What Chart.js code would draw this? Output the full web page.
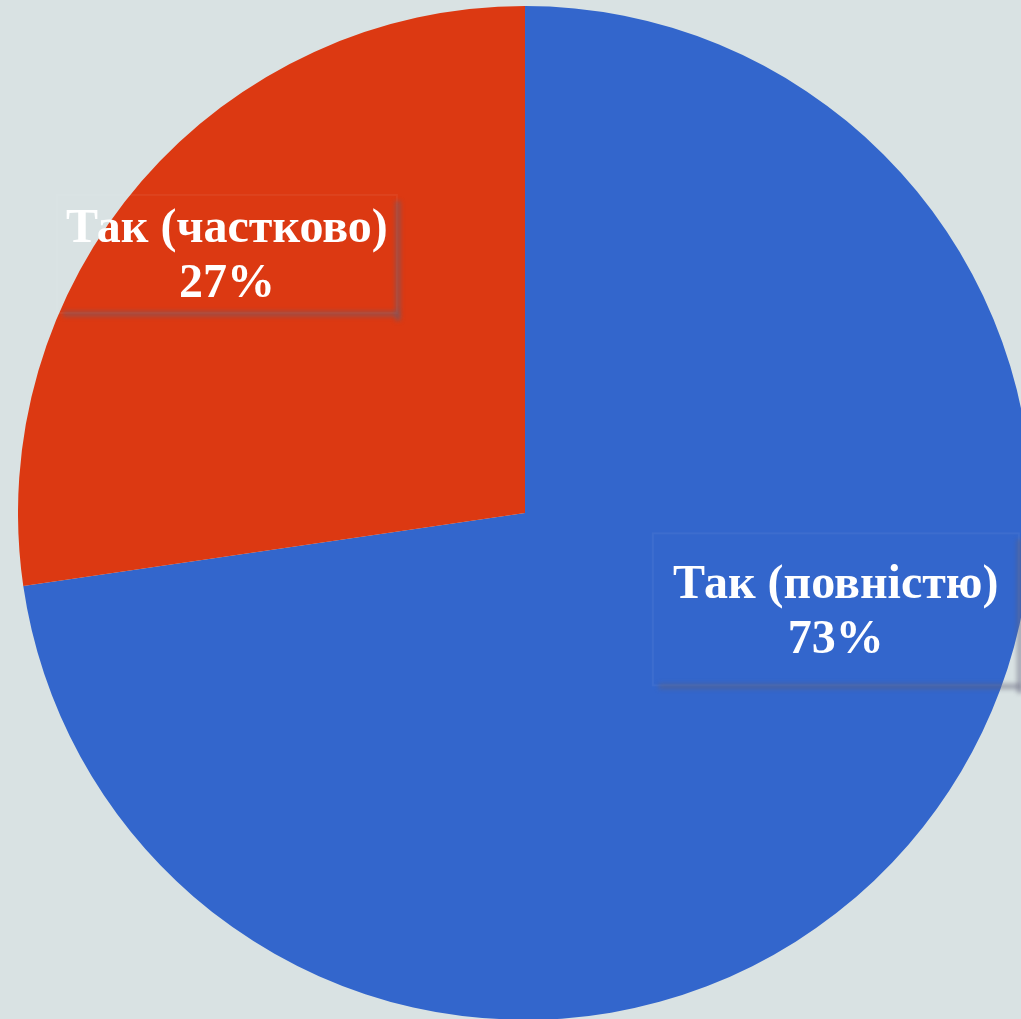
<!DOCTYPE html>
<html>
<head>
<meta charset="utf-8">
<script src="https://cdn.jsdelivr.net/npm/chart.js@4"></script>
<style>
  html, body { margin: 0; padding: 0; background: #d9e2e3; overflow: hidden; width: 1021px; height: 1019px; }
  #wrap { position: absolute; left: 18px; top: 6px; width: 1014px; height: 1014px; }
</style>
</head>
<body>
<div id="wrap"><canvas id="c"></canvas></div>
<script>
const categories = ['Так (повністю)', 'Так (частково)'];
const values = [72.7, 27.3];
const sliceColors = ['#3366cc', '#dc3912'];

// label placement (fractions of radius from pie centre) and box sizes
const labelOffsets = [[0.613, 0.19], [-0.588, -0.511]];
const boxSizes = [[366, 152], [340, 118]];

const labelPlugin = {
  id: 'boxLabels',
  afterDatasetsDraw(chart) {
    const ctx = chart.ctx;
    const meta = chart.getDatasetMeta(0);
    const total = values.reduce((a, b) => a + b, 0);
    meta.data.forEach((arc, i) => {
      const r = arc.outerRadius;
      const cx = arc.x + labelOffsets[i][0] * r;
      const cy = arc.y + labelOffsets[i][1] * r;
      const [bw, bh] = boxSizes[i];
      const x0 = cx - bw / 2, y0 = cy - bh / 2;
      ctx.save();
      ctx.strokeStyle = 'rgba(255,255,255,0.05)';
      ctx.lineWidth = 2;
      ctx.strokeRect(x0, y0, bw, bh);
      ctx.filter = 'blur(2px)';
      ctx.fillStyle = 'rgba(95,95,120,0.45)';
      ctx.fillRect(x0 + bw - 2, y0 + 6, 6, bh + 2);
      ctx.fillRect(x0 + 6, y0 + bh - 2, bw - 4, 6);
      ctx.filter = 'none';
      ctx.fillStyle = '#ffffff';
      const fs = 48;
      ctx.font = 'bold ' + fs + 'px "Liberation Serif", "Times New Roman", serif';
      ctx.textAlign = 'center';
      ctx.textBaseline = 'alphabetic';
      const pct = Math.round(values[i] / total * 100) + '%';
      const gap = 55;
      const cap = 0.33 * fs;
      ctx.fillText(categories[i], cx, cy - gap / 2 + cap);
      ctx.fillText(pct, cx, cy + gap / 2 + cap);
      ctx.restore();
    });
  }
};

new Chart(document.getElementById('c'), {
  type: 'pie',
  data: {
    labels: categories,
    datasets: [{
      data: values,
      backgroundColor: sliceColors,
      borderWidth: 0
    }]
  },
  options: {
    responsive: true,
    maintainAspectRatio: false,
    animation: false,
    layout: { padding: 0 },
    plugins: {
      legend: { display: false },
      tooltip: { enabled: false }
    }
  },
  plugins: [labelPlugin]
});
</script>
</body>
</html>
